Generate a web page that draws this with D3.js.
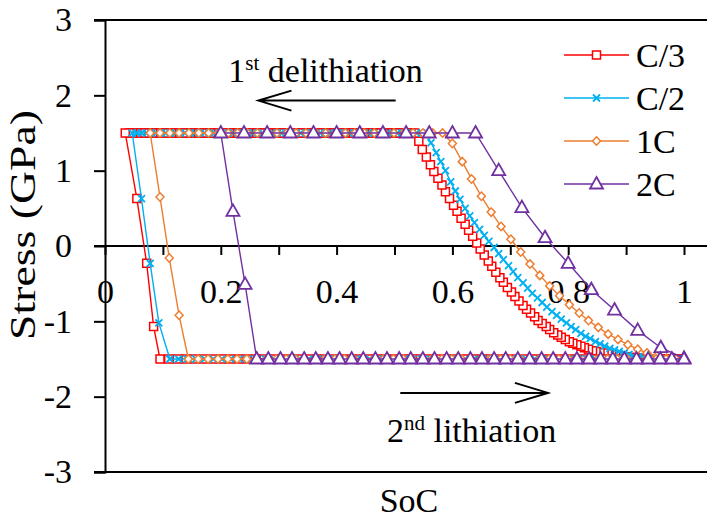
<!DOCTYPE html>
<html>
<head>
<meta charset="utf-8">
<script src="https://cdnjs.cloudflare.com/ajax/libs/d3/7.8.5/d3.min.js"></script>
<style>
body { margin: 0; background: #fff; }
svg text { font-family: "Liberation Serif", "Times New Roman", serif; fill: #000; }
</style>
</head>
<body>
<div id="chart"></div>
<script>
var width = 707, height = 518;

var seriesNames = ["C/3", "C/2", "1C", "2C"];
var seriesColors = ["#FF0000", "#00B0F0", "#ED7D31", "#7030A0"];
var yieldTop = 1.5, yieldBottom = -1.5;

var xTicks = [0, 0.1, 0.2, 0.3, 0.4, 0.5, 0.6, 0.7, 0.8, 0.9, 1];
var xTickLabels = ["0", "", "0.2", "", "0.4", "", "0.6", "", "0.8", "", "1"];
var yTicks = [-3, -2, -1, 0, 1, 2, 3];

// C/3 : delithiation curve, upper plateau, lithiation drop, lower plateau
var c3CurveSoc = [0.535,0.542,0.548,0.555,0.562,0.568,0.575,0.582,0.588,0.595,0.602,0.608,0.615,0.622,0.628,0.635,0.642,0.648,0.655,0.662,
    0.668,0.675,0.682,0.688,0.695,0.702,0.708,0.715,0.722,0.728,0.735,0.742,0.748,0.755,0.762,0.768,0.775,0.782,0.788,0.795,
    0.802,0.808,0.815,0.822,0.828,0.835,0.842,0.848,0.855,0.862,0.868,0.875,0.882,0.888,0.895,0.902,0.908,0.915,0.922,0.928,
    0.935,0.942,0.948,0.955,0.962,0.968,0.975,0.982,0.988,0.995];
var c3CurveStress = [1.50,1.39,1.28,1.18,1.08,0.99,0.90,0.81,0.72,0.63,0.54,0.46,0.37,0.29,0.21,0.13,0.04,-0.04,-0.12,-0.20,
    -0.27,-0.35,-0.42,-0.48,-0.55,-0.61,-0.67,-0.73,-0.79,-0.84,-0.89,-0.94,-0.99,-1.03,-1.07,-1.11,-1.15,-1.18,-1.21,-1.24,
    -1.27,-1.29,-1.31,-1.33,-1.35,-1.37,-1.39,-1.40,-1.41,-1.42,-1.43,-1.44,-1.45,-1.46,-1.47,-1.47,-1.48,-1.48,-1.49,-1.49,
    -1.50,-1.50,-1.50,-1.50,-1.50,-1.50,-1.50,-1.50,-1.50,-1.50];
var c3TopSoc = [0.035,0.042,0.048,0.055,0.062,0.068,0.075,0.082,0.088,0.095,0.102,0.108,0.115,0.122,0.128,0.135,0.142,0.148,0.155,0.162,
    0.168,0.175,0.182,0.188,0.195,0.202,0.208,0.215,0.222,0.228,0.235,0.242,0.248,0.255,0.262,0.268,0.275,0.282,0.288,0.295,
    0.302,0.308,0.315,0.322,0.328,0.335,0.342,0.348,0.355,0.362,0.368,0.375,0.382,0.388,0.395,0.402,0.408,0.415,0.422,0.428,
    0.435,0.442,0.448,0.455,0.462,0.468,0.475,0.482,0.488,0.495,0.502,0.508,0.515,0.522,0.528];
var c3DropSoc = [0.055, 0.072, 0.084, 0.095];
var c3DropStress = [0.63, -0.23, -1.07, -1.50];
var c3BottomSoc = [0.11,0.125,0.14,0.155,0.17,0.185,0.2,0.215,0.23,0.245,0.26,0.275,0.29,0.305,0.32,0.335,0.35,0.365,0.38,0.395,
    0.41,0.425,0.44,0.455,0.47,0.485,0.5,0.515,0.53,0.545,0.56,0.575,0.59,0.605,0.62,0.635,0.65,0.665,0.68,0.695,
    0.71,0.725,0.74,0.755,0.77,0.785,0.8,0.815,0.83,0.845,0.86,0.875,0.89,0.905,0.92,0.935,0.95,0.965,0.98,0.995];

// C/2
var c2CurveSoc = [0.555,0.563,0.572,0.580,0.588,0.597,0.605,0.613,0.622,0.630,0.638,0.647,0.655,0.663,0.672,0.680,0.688,0.697,0.705,0.713,
    0.722,0.730,0.738,0.747,0.755,0.763,0.772,0.780,0.788,0.797,0.805,0.813,0.822,0.830,0.838,0.847,0.855,0.863,0.872,0.880,
    0.888,0.897,0.905,0.913,0.922,0.930,0.938,0.947,0.955,0.963,0.972,0.980,0.988,0.997];
var c2CurveStress = [1.50,1.37,1.24,1.12,1.00,0.85,0.73,0.62,0.50,0.40,0.31,0.22,0.14,0.06,-0.02,-0.10,-0.18,-0.26,-0.34,-0.42,
    -0.49,-0.56,-0.63,-0.69,-0.75,-0.81,-0.87,-0.92,-0.97,-1.02,-1.07,-1.11,-1.16,-1.20,-1.23,-1.27,-1.30,-1.33,-1.36,-1.38,
    -1.40,-1.42,-1.44,-1.46,-1.47,-1.48,-1.49,-1.50,-1.50,-1.50,-1.50,-1.50,-1.50,-1.50];
var c2TopSoc = [0.047,0.055,0.063,0.072,0.080,0.088,0.097,0.105,0.113,0.122,0.130,0.138,0.147,0.155,0.163,0.172,0.180,0.188,0.197,0.205,
    0.213,0.222,0.230,0.238,0.247,0.255,0.263,0.272,0.280,0.288,0.297,0.305,0.313,0.322,0.330,0.338,0.347,0.355,0.363,0.372,
    0.380,0.388,0.397,0.405,0.413,0.422,0.430,0.438,0.447,0.455,0.463,0.472,0.480,0.488,0.497,0.505,0.513,0.522,0.530,0.538,0.547];
var c2DropSoc = [0.063, 0.078, 0.093, 0.112];
var c2DropStress = [0.63, -0.23, -1.02, -1.50];
var c2BottomSoc = [0.127,0.142,0.157,0.172,0.187,0.202,0.217,0.232,0.247,0.262,0.277,0.292,0.307,0.322,0.337,0.352,0.367,0.382,0.397,0.412,
    0.427,0.442,0.457,0.472,0.487,0.502,0.517,0.532,0.547,0.562,0.577,0.592,0.607,0.622,0.637,0.652,0.667,0.682,0.697,0.712,
    0.727,0.742,0.757,0.772,0.787,0.802,0.817,0.832,0.847,0.862,0.877,0.892,0.907,0.922,0.937,0.952,0.967,0.982,0.997];

// 1C
var c1CurveSoc = [0.583,0.600,0.617,0.633,0.650,0.667,0.684,0.701,0.718,0.734,0.751,0.768,0.785,0.802,0.819,0.835,0.852,0.869,0.886,0.903,
    0.920,0.936,0.953,0.970,0.987];
var c1CurveStress = [1.50,1.36,1.12,0.89,0.66,0.45,0.26,0.09,-0.08,-0.24,-0.39,-0.53,-0.66,-0.78,-0.89,-0.99,-1.08,-1.17,-1.24,-1.31,
    -1.37,-1.42,-1.46,-1.49,-1.50];
var c1TopSoc = [0.078,0.095,0.112,0.128,0.145,0.162,0.179,0.196,0.213,0.229,0.246,0.263,0.280,0.297,0.314,0.330,0.347,0.364,0.381,0.398,
    0.415,0.431,0.448,0.465,0.482,0.499,0.516,0.532,0.549,0.566];
var c1DropSoc = [0.095, 0.111, 0.128, 0.144];
var c1DropStress = [0.65, -0.16, -0.92, -1.50];
var c1BottomSoc = [0.161,0.178,0.195,0.212,0.228,0.245,0.262,0.279,0.296,0.313,0.329,0.346,0.363,0.380,0.397,0.414,0.430,0.447,0.464,0.481,
    0.498,0.515,0.531,0.548,0.565,0.582,0.599,0.616,0.632,0.649,0.666,0.683,0.700,0.717,0.733,0.750,0.767,0.784,0.801,0.818,
    0.834,0.851,0.868,0.885,0.902,0.919,0.935,0.952,0.969,0.986];

// 2C
var c05CurveSoc = [0.64, 0.68, 0.72, 0.76, 0.80, 0.84, 0.88, 0.92, 0.96, 1.00];
var c05CurveStress = [1.50, 1.00, 0.51, 0.11, -0.23, -0.58, -0.85, -1.12, -1.35, -1.49];
var c05TopSoc = [0.20, 0.24, 0.28, 0.32, 0.36, 0.40, 0.44, 0.48, 0.52, 0.56, 0.60];
var c05DropSoc = [0.221, 0.242, 0.262];
var c05DropStress = [0.46, -0.51, -1.50];
var c05BottomSoc = [0.282,0.303,0.323,0.344,0.364,0.385,0.405,0.426,0.446,0.467,0.487,0.508,0.528,0.549,0.569,0.590,0.610,0.631,
    0.651,0.672,0.692,0.713,0.733,0.754,0.774,0.795,0.815,0.836,0.856,0.877,0.897,0.918,0.938,0.959,0.979,1.0];

// one closed cycle: delithiation from SoC 1 down, then lithiation back up
function buildLoop(curveSoc, curveStress, topSoc, dropSoc, dropStress, bottomSoc) {
    var pts = [], i;
    for (i = curveSoc.length - 1; i >= 0; i--) pts.push({soc: curveSoc[i], stress: curveStress[i]});
    for (i = topSoc.length - 1; i >= 0; i--) pts.push({soc: topSoc[i], stress: yieldTop});
    for (i = 0; i < dropSoc.length; i++) pts.push({soc: dropSoc[i], stress: dropStress[i]});
    for (i = 0; i < bottomSoc.length; i++) pts.push({soc: bottomSoc[i], stress: yieldBottom});
    return pts;
}

var series = [
    buildLoop(c3CurveSoc, c3CurveStress, c3TopSoc, c3DropSoc, c3DropStress, c3BottomSoc),
    buildLoop(c2CurveSoc, c2CurveStress, c2TopSoc, c2DropSoc, c2DropStress, c2BottomSoc),
    buildLoop(c1CurveSoc, c1CurveStress, c1TopSoc, c1DropSoc, c1DropStress, c1BottomSoc),
    buildLoop(c05CurveSoc, c05CurveStress, c05TopSoc, c05DropSoc, c05DropStress, c05BottomSoc)
];

var markers = [
    {path: "M-4,-4H4V4H-4Z", fill: "#fff", sw: 1.5},
    {path: "M-3.5,-3.5L3.5,3.5M-3.5,3.5L3.5,-3.5", fill: "none", sw: 1.8},
    {path: "M0,-4.2L4,0L0,4.2L-4,0Z", fill: "#fff", sw: 1.5},
    {path: "M0,-7L6.5,4.5L-6.5,4.5Z", fill: "#fff", sw: 1.8}
];

var x = d3.scaleLinear()
    .domain([0, 1])
    .range([105, 684]);

var y = d3.scaleLinear()
    .domain([-3, 3])
    .range([472, 20]);

var svg = d3.select("#chart").append("svg")
    .attr("width", width)
    .attr("height", height);

// plot frame: top, stress = 0 and bottom run to the right edge
svg.selectAll("line.frame")
    .data([3, 0, -3])
    .enter().append("line")
    .attr("class", "frame")
    .attr("x1", x(0) - 11)
    .attr("x2", width)
    .attr("y1", function(d) { return y(d); })
    .attr("y2", function(d) { return y(d); })
    .attr("stroke", "#000")
    .attr("stroke-width", 2);

var xAxis = d3.axisBottom(x)
    .tickValues(xTicks)
    .tickSize(9)
    .tickSizeOuter(0)
    .tickPadding(24)
    .tickFormat(function(d, i) { return xTickLabels[i]; });

var xAxisLine = svg.append("g")
    .attr("transform", "translate(0," + y(0) + ")")
    .call(xAxis);
xAxisLine.select(".domain").remove();

var yAxis = d3.axisLeft(y)
    .tickValues(yTicks)
    .tickSize(11)
    .tickPadding(22)
    .tickFormat(function(d) { return String(d); });

var yAxisLine = svg.append("g")
    .attr("transform", "translate(" + x(0) + ",0)")
    .call(yAxis);

svg.selectAll(".tick line, .domain")
    .attr("stroke", "#000")
    .attr("stroke-width", 2);
svg.selectAll(".tick text")
    .attr("font-size", 34)
    .attr("font-family", "Liberation Serif, Times New Roman, serif");

var line = d3.line()
    .x(function(d) { return x(d.soc); })
    .y(function(d) { return y(d.stress); });

series.forEach(function(pts, i) {
    var g = svg.append("g");
    g.append("path")
        .datum(pts)
        .attr("d", line)
        .attr("fill", "none")
        .attr("stroke", seriesColors[i])
        .attr("stroke-width", 1.4);
    g.selectAll("path.mk")
        .data(pts)
        .enter().append("path")
        .attr("class", "mk")
        .attr("d", markers[i].path)
        .attr("transform", function(d) { return "translate(" + x(d.soc) + "," + y(d.stress) + ")"; })
        .attr("fill", markers[i].fill)
        .attr("stroke", seriesColors[i])
        .attr("stroke-width", markers[i].sw);
});

// legend
var legend = svg.selectAll("g.legend")
    .data(seriesNames)
    .enter().append("g")
    .attr("class", "legend")
    .attr("transform", function(d, i) { return "translate(564," + (55 + i * 43) + ")"; });

legend.append("line")
    .attr("x1", 0)
    .attr("x2", 65)
    .attr("stroke", function(d, i) { return seriesColors[i]; })
    .attr("stroke-width", 1.6);
legend.append("path")
    .attr("d", function(d, i) { return markers[i].path; })
    .attr("transform", "translate(32.5,0)")
    .attr("fill", function(d, i) { return markers[i].fill; })
    .attr("stroke", function(d, i) { return seriesColors[i]; })
    .attr("stroke-width", function(d, i) { return markers[i].sw; });
legend.append("text")
    .attr("x", 72)
    .attr("dy", "0.35em")
    .attr("font-size", 34)
    .text(function(d) { return d; });

// axis titles
svg.append("text")
    .attr("x", 409)
    .attr("y", 512)
    .attr("text-anchor", "middle")
    .attr("font-size", 34)
    .text("SoC");

svg.append("text")
    .attr("transform", "translate(35,225) rotate(-90)")
    .attr("text-anchor", "middle")
    .attr("font-size", 35)
    .attr("textLength", 230)
    .attr("lengthAdjust", "spacingAndGlyphs")
    .text("Stress (GPa)");

// direction annotations
function arrow(x1, x2, yv) {
    var dir = x2 > x1 ? -1 : 1;
    svg.append("path")
        .attr("d", "M" + x(x1) + "," + y(yv) + "H" + x(x2) +
            "M" + (x(x2) + dir * 33) + "," + (y(yv) - 10) + "L" + x(x2) + "," + y(yv) +
            "L" + (x(x2) + dir * 33) + "," + (y(yv) + 10))
        .attr("fill", "none")
        .attr("stroke", "#000")
        .attr("stroke-width", 2);
}

function label(xv, yv, main, sup, rest) {
    var t = svg.append("text")
        .attr("x", x(xv))
        .attr("y", y(yv))
        .attr("font-size", 34);
    t.append("tspan").text(main);
    t.append("tspan").attr("font-size", 21).attr("dy", -12).text(sup);
    t.append("tspan").attr("dy", 12).text("\u00a0" + rest);
}

label(0.213, 2.18, "1", "st", "delithiation");
arrow(0.502, 0.265, 1.93);
label(0.487, -2.60, "2", "nd", "lithiation");
arrow(0.51, 0.765, -1.95);
</script>
</body>
</html>
